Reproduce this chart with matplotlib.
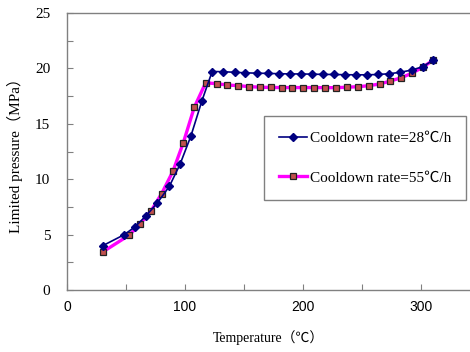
import matplotlib
matplotlib.use("Agg")
import matplotlib.pyplot as plt
from matplotlib.ticker import MultipleLocator

# Series 1: cooldown rate 28 C/h (navy diamonds)
temp_28 = [30.3, 48.6, 57.6, 67, 76.5, 86.7, 95.8, 105, 114.4, 123, 132.5, 142, 151,
           160.7, 170.2, 179.6, 189, 198.3, 207.6, 217.2, 226.5, 235.8, 244.9, 254.2,
           263.8, 273.1, 282.5, 292, 301.4, 310.4]
pres_28 = [4.0, 5.0, 5.7, 6.7, 7.85, 9.35, 11.35, 13.9, 17.1, 19.72, 19.7, 19.65, 19.6,
           19.57, 19.55, 19.52, 19.5, 19.5, 19.48, 19.46, 19.45, 19.43, 19.42, 19.42,
           19.45, 19.52, 19.65, 19.85, 20.15, 20.75]

# Series 2: cooldown rate 55 C/h (magenta line, red squares)
temp_55 = [30.2, 52.8, 61.9, 71.2, 80.2, 89.8, 98.6, 107.9, 117.5, 126.8, 136, 145.2,
           154.2, 163.6, 172.9, 181.9, 190.9, 200.2, 209.6, 218.8, 227.9, 237.3, 246.6,
           255.9, 265.3, 274, 283, 292.1, 301.4, 310.4]
pres_55 = [3.43, 4.96, 5.96, 7.13, 8.7, 10.72, 13.3, 16.5, 18.7, 18.62, 18.5, 18.44,
           18.36, 18.3, 18.28, 18.27, 18.27, 18.27, 18.27, 18.26, 18.26, 18.3, 18.35,
           18.44, 18.6, 18.86, 19.15, 19.56, 20.1, 20.75]

labels = ["Cooldown rate=28\u2103/h", "Cooldown rate=55\u2103/h"]
x_label = "Temperature\uff08\u2103\uff09"
y_label = "Limited pressure\uff08MPa\uff09"

serif = ["Liberation Serif", "Noto Sans CJK SC", "DejaVu Sans"]
sans = ["Liberation Sans", "DejaVu Sans"]

fig = plt.figure(figsize=(4.7, 3.52), dpi=100)
ax = fig.add_axes([67 / 470, 1 - 290 / 352, 1 - 67 / 470, (290 - 13) / 352])

ax.plot(temp_28, pres_28, color="#000080", lw=1.2, marker="D", ms=4.2,
        mfc="#000080", mec="#000080", label=labels[0], zorder=3)
ax.plot(temp_55, pres_55, color="#FF00FF", lw=2.4, marker="s", ms=4.8,
        mfc="#C0504D", mec="#222222", mew=0.9, label=labels[1], zorder=2)

ax.set_xlim(0, 341.5)
ax.set_ylim(0, 25)
ax.xaxis.set_major_locator(MultipleLocator(100))
ax.xaxis.set_minor_locator(MultipleLocator(50))
ax.yaxis.set_major_locator(MultipleLocator(5))
ax.yaxis.set_minor_locator(MultipleLocator(2.5))

for s in ["left", "bottom", "top"]:
    ax.spines[s].set_color("#808080")
    ax.spines[s].set_linewidth(1.0)
ax.spines["right"].set_visible(False)

ax.tick_params(which="both", direction="in", color="#808080", top=False, right=False)
ax.tick_params(which="major", length=4, width=0.8)
ax.tick_params(which="minor", length=4, width=0.8)
ax.tick_params(axis="y", pad=12)
ax.tick_params(axis="x", pad=7)

for t in ax.get_yticklabels():
    t.set_fontfamily(serif)
    t.set_fontsize(11)
for t in ax.get_xticklabels():
    t.set_fontfamily(sans)
    t.set_fontsize(10)

ax.set_xlabel(x_label, fontfamily=serif, fontsize=10, labelpad=12)
ax.set_ylabel(y_label, fontfamily=serif, fontsize=11, labelpad=9)

leg = ax.legend(loc="upper left", bbox_to_anchor=(264 / 470, 1 - 116 / 352),
                bbox_transform=fig.transFigure, frameon=True, fancybox=False,
                edgecolor="#808080", framealpha=1, borderpad=1.0, labelspacing=1.7,
                handlelength=1.8, handletextpad=0.2, borderaxespad=0,
                prop={"family": serif, "size": 11})
leg.get_frame().set_linewidth(1.0)

fig.savefig("out.png", dpi=100)
